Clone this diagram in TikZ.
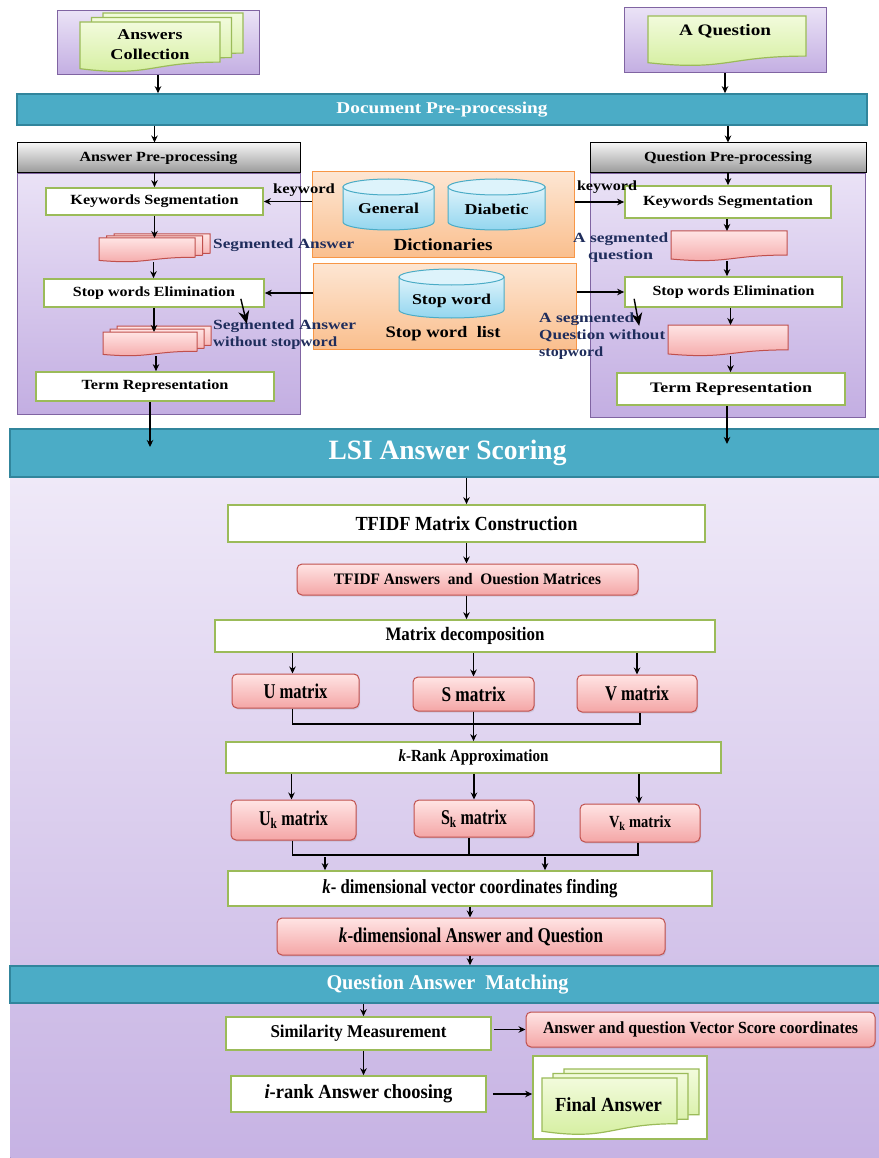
\documentclass[tikz,border=0pt]{standalone}
\usepackage{fontspec}
\setmainfont{Liberation Serif}
\usepackage{graphicx}
\usetikzlibrary{arrows.meta,calc,shadows}

\definecolor{barfill}{HTML}{4BACC6}
\definecolor{barline}{HTML}{31859C}
\definecolor{gborder}{HTML}{9BBB59}
\definecolor{rborder}{HTML}{C0504D}
\definecolor{rtop}{HTML}{FFE4E4}
\definecolor{rbot}{HTML}{F4A6A6}
\definecolor{gtop}{HTML}{F2FBDC}
\definecolor{gbot}{HTML}{D3EE9C}
\definecolor{ptop}{HTML}{EAE2F6}
\definecolor{pbot}{HTML}{C3AEE2}
\definecolor{pline}{HTML}{8064A2}
\definecolor{otop}{HTML}{FDE6D3}
\definecolor{obot}{HTML}{FABF8E}
\definecolor{oline}{HTML}{F79646}
\definecolor{ctop}{HTML}{DDF3FB}
\definecolor{cbot}{HTML}{93D6EF}
\definecolor{cline}{HTML}{4BACC6}
\definecolor{navy}{HTML}{1F2D5C}
\definecolor{lsitop}{HTML}{EFE9F8}
\definecolor{lsibot}{HTML}{C6B2E3}

% text of given width (pt) and size (pt), bold
\newcommand\T[3]{{\fontsize{#2}{#2}\selectfont\bfseries\resizebox{#1pt}{\height}{#3}}}
% box node from corners
\newcommand\bx[7]{\node[#2, minimum width={#5-#3}, minimum height={#6-#4}] (#1) at ({(#3+#5)/2},{(#4+#6)/2}) {#7};}
% document shape with wavy bottom
\newcommand\docshp[5]{\path[#5] (#1,#2) -- (#3,#2) -- (#3,{#2+0.802*(#4-#2)}) .. controls ({(#1+#3)/2},{#2+0.802*(#4-#2)}) and ({(#1+#3)/2},{#2+1.107*(#4-#2)}) .. (#1,{#2+0.934*(#4-#2)}) -- cycle;}
\newcommand\docnode[6]{\docshp{#2}{#3}{#4}{#5}{#6}\node[inner sep=0pt, outer sep=0pt, minimum width={#4-#2}, minimum height={#5-#3}] (#1) at ({(#2+#4)/2},{(#3+#5)/2}) {};}
% cylinder: x1 y1 x2 y2 rx
\newcommand\cyl[5]{%
 \path[cylb] (#1,{#2+8}) -- (#1,{#4-8}) arc[start angle=180,end angle=360,x radius=#5pt,y radius=8pt] -- (#3,{#2+8}) -- cycle;
 \path[cylt] ({(#1+#3)/2},{#2+8}) ellipse[x radius=#5pt,y radius=8pt];}

\begin{document}
\begin{tikzpicture}[x=1pt,y=-1pt,
  arr/.style={-{Stealth[length=7pt,width=6.5pt]}, line width=1.6pt},
  bigarr/.style={-{Stealth[length=13pt,width=11pt]}, line width=1.4pt},
  gbox/.style={draw=gborder, line width=1.7pt, fill=white, inner sep=0pt},
  rbox/.style={draw=rborder, line width=1pt, rounded corners=5pt, top color=rtop, bottom color=rbot, inner sep=0pt, drop shadow={opacity=0.2, shadow xshift=1pt, shadow yshift=-1.5pt}},
  bar/.style={draw=barline, line width=1.6pt, fill=barfill, inner sep=0pt, text=white},
  ghead/.style={draw=black, line width=1pt, top color=black!4, bottom color=black!40, inner sep=0pt},
  panel/.style={draw=pline, line width=0.8pt, top color=ptop, bottom color=pbot, inner sep=0pt},
  obox/.style={draw=oline, line width=1pt, top color=otop, bottom color=obot, inner sep=0pt},
  outerp/.style={draw=pline, line width=1pt, top color=ptop, bottom color=pbot, inner sep=0pt},
  gdoc/.style={draw=gborder, line width=1.2pt, top color=gtop, bottom color=gbot},
  rdoc/.style={draw=rborder, line width=1pt, top color=rtop, bottom color=rbot},
  cylb/.style={draw=cline, line width=1pt, top color=ctop, bottom color=cbot},
  cylt/.style={draw=cline, line width=1pt, fill=ctop},
  lbl/.style={inner sep=0pt, text=navy, font=\fontsize{14}{17}\selectfont},
  txt/.style={inner sep=0pt}
]
\useasboundingbox (0,0) rectangle (878,1158);
\fill[white] (0,0) rectangle (878,1158);

% ---------- inputs ----------
\bx{acb}{outerp}{57}{11}{259}{75}{}
\docshp{103}{13}{243}{63}{gdoc}
\docshp{91.5}{17.5}{231.5}{67.5}{gdoc}
\docnode{acd}{80}{22}{220}{72}{gdoc}
\node[txt, align=center, font=\fontsize{15}{20}\selectfont] (act) at (150,45) {\T{65}{15}{Answers}\\\T{79}{15}{Collection}};

\bx{aqb}{outerp}{624}{8}{826}{73}{}
\docnode{aqd}{648}{16}{806}{66}{gdoc}
\node[txt] (aqt) at (725,31) {\T{92}{16}{A Question}};

% ---------- Document pre-processing ----------
\bx{dpp}{bar}{17}{94}{867}{125}{\T{211}{16.5}{Document Pre-processing}}
\draw[arr] (acb.south) -- (acb.south |- dpp.north);
\draw[arr] (aqb.south) -- (aqb.south |- dpp.north);

% ---------- panels ----------
\bx{apn}{panel}{17}{173}{300}{414}{}
\bx{qpn}{panel}{590}{173}{865}{417}{}
\bx{aph}{ghead}{17}{143}{300}{173}{\T{158}{14}{Answer Pre-processing}}
\bx{qph}{ghead}{590}{143}{866}{173}{\T{168}{14}{Question Pre-processing}}
\draw[arr] ([xshift=-4pt]aph.north |- dpp.south) -- ([xshift=-4pt]aph.north);
\draw[arr] (qph.north |- dpp.south) -- (qph.north);

% ---------- dictionaries ----------
\bx{dict}{obox}{312}{172}{574}{257}{}
\cyl{343}{179}{434}{230}{45.5}
\node[txt] (gen) at (388.5,208) {\T{61}{15}{General}};
\cyl{448}{179}{545}{230}{48.5}
\node[txt] (dia) at (496.5,209) {\T{64}{15}{Diabetic}};
\node[txt] (dictt) at (443,245) {\T{99}{17}{Dictionaries}};
\bx{swl}{obox}{313}{263}{576}{349}{}
\cyl{399}{269}{504}{318}{52.5}
\node[txt] (swc) at (451.5,301) {\T{79}{15}{Stop word}};
\node[txt] (swlt) at (443,334) {\T{115}{16}{Stop word\ \ list}};

% ---------- answer pre-processing ----------
\bx{kwA}{gbox}{46}{188}{263}{215}{\T{168}{14}{Keywords Segmentation}}
\draw[arr] (aph.south -| kwA.north) -- (kwA.north);
\docshp{114}{234}{210}{258}{rdoc}
\docshp{106.5}{236}{202.5}{260}{rdoc}
\docnode{segA}{99}{238}{195}{262}{rdoc}
\node[lbl, anchor=west] (segAl) at (213,245) {\T{141}{14}{Segmented Answer}};
\draw[arr] (kwA.south) -- (kwA.south |- segA.north);
\bx{swA}{gbox}{44}{279}{264}{307}{\T{162}{14}{Stop words Elimination}}
\draw[arr] ([xshift=-1pt]kwA.south |- segA.south) -- ([xshift=-1pt]kwA.south |- swA.north);
\docshp{117}{326}{211}{350}{rdoc}
\docshp{110}{329}{204}{353}{rdoc}
\docnode{segB}{103}{332}{197}{356}{rdoc}
\node[lbl, anchor=north west, align=left] (segBl) at (213,320) {\T{143}{14}{Segmented Answer}\\\T{124}{14}{without stopword}};
\draw[arr] (swA.south) -- (swA.south |- segB.north);
\draw[bigarr] ([shift={(-24,-9)}]swA.south east) -- ([shift={(-18,16)}]swA.south east);
\bx{trA}{gbox}{36}{372}{274}{401}{\T{147}{14}{Term Representation}}
\draw[arr] ([xshift=2pt]swA.south |- segB.south) -- ([xshift=2pt]swA.south |- trA.north);
\draw[arr] (dict.west |- kwA) -- (kwA.east);
\node[txt] (kwl1) at (304,190) {\T{62}{14}{keyword}};
\draw[arr] (swl.west |- swA) -- (swA.east);

% ---------- question pre-processing ----------
\bx{kwQ}{gbox}{625}{186}{831}{218}{\T{170}{14}{Keywords Segmentation}}
\draw[arr] (qph.south) -- (qph.south |- kwQ.north);
\draw[arr] (dict.east |- kwQ) -- (kwQ.west);
\node[txt] (kwl2) at (607,187) {\T{60}{14}{keyword}};
\docnode{segQ}{671}{231}{787}{261}{rdoc}
\draw[arr] ([xshift=-1pt]kwQ.south) -- ([xshift=-1pt]kwQ.south |- segQ.north);
\node[lbl, anchor=north west, align=left] (segQl) at (573,233) {\T{95}{14}{A segmented}\\\hspace*{15pt}\T{65}{14}{question}};
\bx{swQ}{gbox}{625}{277}{842}{307}{\T{162}{14}{Stop words Elimination}}
\draw[arr] ([xshift=-1pt]kwQ.south |- segQ.south) -- ([xshift=-1pt]kwQ.south |- swQ.north);
\draw[arr] (swl.east |- swQ) -- (swQ.west);
\docnode{segR}{668}{325}{788}{356}{rdoc}
\draw[arr] ([xshift=-3pt]swQ.south) -- ([xshift=-3pt]swQ.south |- segR.north);
\draw[bigarr] ([shift={(10,-9)}]swQ.south west) -- ([shift={(15,18)}]swQ.south west);
\node[lbl, anchor=north west, align=left] (segRl) at (539,313) {\T{95}{14}{A segmented}\\\T{126}{14}{Question without}\\\T{64}{14}{stopword}};
\bx{trQ}{gbox}{617}{373}{845}{405}{\T{162}{14.5}{Term Representation}}
\draw[arr] ([xshift=-3pt]swQ.south |- segR.south) -- ([xshift=-3pt]swQ.south |- trQ.north);

% ---------- LSI answer scoring ----------
\bx{lsip}{panel}{10}{477}{885}{1165}{}
\path[top color=lsitop, bottom color=lsibot] (10.4,477) rectangle (884,1165);
\bx{lsi}{bar}{10}{429}{885}{477}{\T{238}{28}{LSI Answer Scoring}}
\draw[arr] ([xshift=-5pt]trA.south) -- ([xshift=-5pt]trA.south |- 0,447);
\draw[arr] ([xshift=-4pt]trQ.south) -- ([xshift=-4pt]trQ.south |- 0,444);

\bx{tfc}{gbox}{228}{505}{705}{542}{\T{222}{20}{TFIDF Matrix Construction}}
\draw[arr] (tfc.north |- lsi.south) -- (tfc.north);
\bx{tfa}{rbox}{297}{564}{638}{595}{\T{267}{16}{TFIDF Answers\ \ and\ \ Ouestion Matrices}}
\draw[arr] (tfc.south) -- (tfc.south |- tfa.north);
\bx{md}{gbox}{215}{620}{715}{652}{\T{159}{19}{Matrix decomposition}}
\draw[arr] (tfc.south |- tfa.south) -- (tfc.south |- md.north);

\bx{um}{rbox}{232}{674}{359}{708}{\T{64}{21}{U matrix}}
\bx{sm}{rbox}{413}{677}{534}{711}{\T{64}{21}{S matrix}}
\bx{vm}{rbox}{577}{675}{697}{712}{\T{64}{21}{V matrix}}
\draw[arr] ([xshift=-3pt]um.north |- md.south) -- ([xshift=-3pt]um.north);
\draw[arr] (sm.north |- md.south) -- (sm.north);
\draw[arr] (vm.north |- md.south) -- (vm.north);

\bx{kr}{gbox}{226}{742}{721}{773}{\T{150}{17}{\textit{k}-Rank Approximation}}
\coordinate (j1) at (0,724);
\draw[line width=1.6pt] ([xshift=-3pt]um.south) -- ([xshift=-3pt]um.south |- j1) -- ([xshift=3pt]vm.south |- j1) -- ([xshift=3pt]vm.south);
\draw[arr] (sm.south) -- (sm.south |- kr.north);

\bx{ukm}{rbox}{231}{800}{356}{840}{\T{69}{21}{U\textsubscript{k} matrix}}
\bx{skm}{rbox}{414}{800}{534}{837}{\T{66}{21}{S\textsubscript{k} matrix}}
\bx{vkm}{rbox}{580}{804}{700}{842}{\T{62}{17}{V\textsubscript{k} matrix}}
\draw[arr] ([xshift=-2pt]ukm.north |- kr.south) -- ([xshift=-2pt]ukm.north);
\draw[arr] (skm.north |- kr.south) -- (skm.north);
\draw[arr] ([xshift=-1pt]vkm.north |- kr.south) -- ([xshift=-1pt]vkm.north);

\bx{kv}{gbox}{228}{871}{712}{906}{\T{295}{20}{\textit{k}- dimensional vector coordinates finding}}
\coordinate (j2) at (0,855);
\draw[line width=1.6pt] ([xshift=-1pt]ukm.south) -- ([xshift=-1pt]ukm.south |- j2) -- ([xshift=-2pt]vkm.south |- j2) -- ([xshift=-2pt]vkm.south);
\draw[line width=1.6pt] ([xshift=-5pt]skm.south) -- ([xshift=-5pt]skm.south |- j2);
\coordinate (ja) at (325,857);
\coordinate (jb) at (545,857);
\draw[arr] (ja) -- (ja |- kv.north);
\draw[arr] (jb) -- (jb |- kv.north);

\bx{kaq}{rbox}{277}{918}{665}{955}{\T{264}{21}{\textit{k}-dimensional Answer and Question}}
\draw[arr] (kv.south) -- (kv.south |- kaq.north);

% ---------- Question answer matching ----------
\bx{qam}{bar}{10}{966}{885}{1003}{\T{242}{21}{Question Answer\ \ Matching}}
\draw[arr] ([xshift=-1pt]kaq.south) -- ([xshift=-1pt]kaq.south |- qam.north);

\bx{sim}{gbox}{226}{1017}{491}{1050}{\T{176}{18}{Similarity Measurement}}
\draw[arr] ([xshift=5pt]sim.north |- qam.south) -- ([xshift=5pt]sim.north);
\bx{avs}{rbox}{526}{1012}{875}{1047}{\T{315}{17}{Answer and question Vector Score coordinates}}
\draw[arr] ([xshift=2pt]sim.east |- avs.west) -- (avs.west);

\bx{ir}{gbox}{231}{1076}{486}{1112}{\T{188}{20}{\textit{i}-rank Answer choosing}}
\draw[arr] ([xshift=5pt]sim.south) -- ([xshift=5pt]sim.south |- ir.north);

\bx{fab}{gbox}{533}{1056}{707}{1139}{}
\docshp{564}{1069}{699}{1126}{gdoc}
\docshp{553}{1073.5}{688}{1130.5}{gdoc}
\docnode{fad}{542}{1078}{677}{1135}{gdoc}
\node[txt] (fat) at (608.5,1105) {\T{107}{20}{Final Answer}};
\draw[arr] ([xshift=6pt]ir.east) -- (fab.west |- ir.east);
\end{tikzpicture}
\end{document}
